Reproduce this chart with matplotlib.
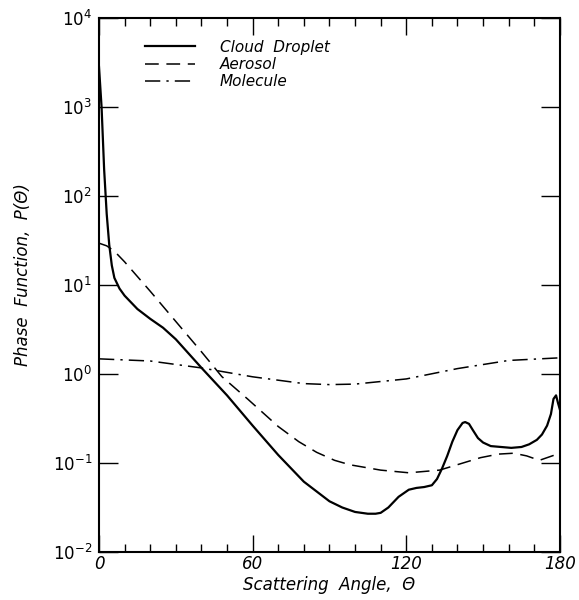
import matplotlib
matplotlib.use("Agg")
import matplotlib.pyplot as plt
from matplotlib.ticker import FixedLocator, MultipleLocator, NullFormatter

plt.rcParams['font.family'] = ['DejaVu Sans']
plt.rcParams['mathtext.default'] = 'it'

# cloud droplet phase function (angle in degrees, log10 P)
cloud_angle = [0, 1, 2, 3, 4, 5, 6, 8, 10, 15, 20, 25, 30, 35, 40, 50, 60, 70,
               80, 90, 95, 100, 105, 108, 110, 113, 117, 121, 124, 127, 130, 132,
               134, 136, 138, 140, 142, 143, 144.5, 146, 148, 150, 153, 157, 161,
               165, 168, 171, 173, 175, 176.5, 177.5, 178.5, 179.3, 180]
cloud_log = [3.45, 3.0, 2.3, 1.8, 1.45, 1.22, 1.08, 0.96, 0.88, 0.73, 0.62, 0.52,
             0.39, 0.23, 0.07, -0.24, -0.58, -0.91, -1.21, -1.43, -1.50, -1.55,
             -1.57, -1.57, -1.56, -1.50, -1.38, -1.30, -1.28, -1.27, -1.25, -1.18,
             -1.06, -0.92, -0.76, -0.63, -0.55, -0.54, -0.56, -0.63, -0.72, -0.77,
             -0.81, -0.82, -0.83, -0.82, -0.79, -0.74, -0.68, -0.58, -0.45, -0.28,
             -0.24, -0.33, -0.40]
cloud_p = [10 ** v for v in cloud_log]

# aerosol
aer_angle = [0, 3, 6, 10, 20, 30, 40, 48, 58, 70, 78, 85, 92, 98, 110, 121, 133,
             141, 149, 156, 162, 167, 172, 176, 180]
aer_log = [1.47, 1.44, 1.38, 1.26, 0.93, 0.59, 0.25, -0.03, -0.28, -0.59, -0.76,
           -0.88, -0.97, -1.02, -1.08, -1.11, -1.08, -1.01, -0.94, -0.90, -0.89,
           -0.92, -0.97, -0.93, -0.89]
aer_p = [10 ** v for v in aer_log]

# molecule
mol_angle = [0, 20, 40, 60, 80, 90, 100, 120, 140, 160, 180]
mol_p = [1.48, 1.40, 1.17, 0.93, 0.78, 0.76, 0.77, 0.88, 1.15, 1.42, 1.52]

fig = plt.figure(figsize=(5.79, 6.0), dpi=100)
ax = fig.add_axes([0.171, 0.08, 0.796, 0.89])

ax.plot(cloud_angle, cloud_p, color='black', lw=1.6, ls='-', label='Cloud  Droplet')
ax.plot(aer_angle, aer_p, color='black', lw=1.1, ls=(0, (9, 5)), label='Aerosol')
ax.plot(mol_angle, mol_p, color='black', lw=1.1, ls=(0, (10, 4, 1.5, 4)), label='Molecule')

ax.set_yscale('log')
ax.set_xlim(0, 180)
ax.set_ylim(1e-2, 1e4)

ax.xaxis.set_major_locator(FixedLocator([0, 60, 120, 180]))
ax.xaxis.set_minor_locator(MultipleLocator(10))
ax.yaxis.set_major_locator(FixedLocator([1e-2, 1e-1, 1e0, 1e1, 1e2, 1e3, 1e4]))
ax.yaxis.set_minor_locator(FixedLocator([]))
ax.yaxis.set_minor_formatter(NullFormatter())
ax.set_yticklabels([r'$10^{-2}$', r'$10^{-1}$', r'$10^{0}$', r'$10^{1}$',
                    r'$10^{2}$', r'$10^{3}$', r'$10^{4}$'])
ax.set_xticklabels(['0', '60', '120', '180'], fontstyle='italic')

ax.tick_params(which='both', direction='in', top=True, right=True, width=1.0,
               labelsize=12)
ax.tick_params(axis='x', pad=2)
ax.tick_params(axis='y', pad=5)
ax.tick_params(which='major', length=12)
ax.tick_params(which='minor', length=6)
ax.tick_params(axis='y', which='major', length=14)

for s in ax.spines.values():
    s.set_linewidth(1.5)

ax.set_xlabel('Scattering  Angle,  Θ', fontsize=12, fontstyle='italic')
ax.xaxis.set_label_coords(0.5, -0.045)
ax.set_ylabel('Phase  Function,  P(Θ)', fontsize=12, fontstyle='italic')
ax.yaxis.set_label_coords(-0.145, 0.52)

leg = ax.legend(loc='upper left', bbox_to_anchor=(0.07, 0.985), frameon=False,
                fontsize=11, handlelength=3.3, handletextpad=1.6, labelspacing=0.15)
for t in leg.get_texts():
    t.set_fontstyle('italic')

fig.savefig('out.png', dpi=100)
